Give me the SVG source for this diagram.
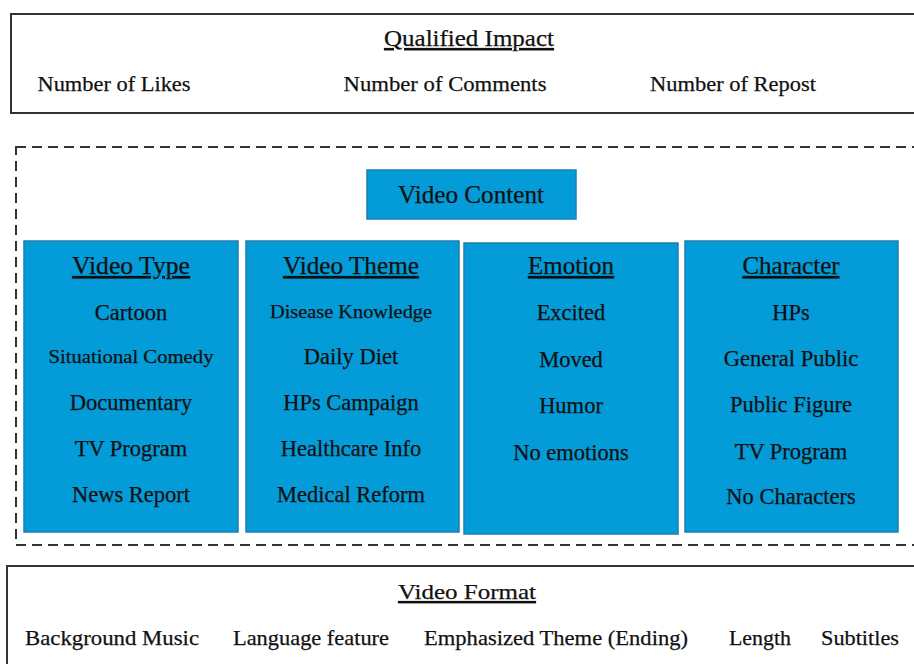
<svg xmlns="http://www.w3.org/2000/svg" width="914" height="664" viewBox="0 0 914 664">
<style>
text{font-family:"Liberation Serif","Times New Roman",serif;fill:#111;text-anchor:middle;stroke:#111;stroke-width:0.25}
.t{font-size:22px}
.h{font-size:25px;text-decoration:underline}
.i{font-size:22.5px}
.s{font-size:19px}
.frame{fill:#fff;stroke:#333;stroke-width:2}
.blue{fill:#039BD8;stroke:#1E7FAF;stroke-width:1.5}
</style>
<rect width="914" height="664" fill="#fff"/>
<g id="qualified-impact">
<rect class="frame" x="11" y="14" width="912" height="99"/>
<text class="t" x="469" y="46" style="font-size:23px;text-decoration:underline" textLength="170" lengthAdjust="spacingAndGlyphs">Qualified Impact</text>
<text class="t" x="114" y="91" textLength="153" lengthAdjust="spacingAndGlyphs">Number of Likes</text>
<text class="t" x="445" y="91" textLength="203" lengthAdjust="spacingAndGlyphs">Number of Comments</text>
<text class="t" x="733" y="91" textLength="166" lengthAdjust="spacingAndGlyphs">Number of Repost</text>
</g>
<g id="video-content-area">
<rect x="16" y="147" width="910" height="398" fill="none" stroke="#333" stroke-width="2" stroke-dasharray="10,6"/>
</g>
<g id="video-content">
<rect class="blue" x="367" y="170" width="209" height="49"/>
<text class="t" x="471" y="203" style="font-size:25px" textLength="146" lengthAdjust="spacingAndGlyphs">Video Content</text>
</g>
<g id="video-type">
<rect class="blue" x="24" y="241" width="214" height="291"/>
<text class="h" x="131" y="274" textLength="118" lengthAdjust="spacingAndGlyphs">Video Type</text>
<text class="i" x="131" y="320">Cartoon</text>
<text class="s" x="131" y="363" textLength="165" lengthAdjust="spacingAndGlyphs">Situational Comedy</text>
<text class="i" x="131" y="410">Documentary</text>
<text class="i" x="131" y="456">TV Program</text>
<text class="i" x="131" y="502">News Report</text>
</g>
<g id="video-theme">
<rect class="blue" x="246" y="241" width="213" height="291"/>
<text class="h" x="351" y="274" textLength="136" lengthAdjust="spacingAndGlyphs">Video Theme</text>
<text class="s" x="351" y="318" textLength="162" lengthAdjust="spacingAndGlyphs">Disease Knowledge</text>
<text class="i" x="351" y="364">Daily Diet</text>
<text class="i" x="351" y="410">HPs Campaign</text>
<text class="i" x="351" y="456">Healthcare Info</text>
<text class="i" x="351" y="502">Medical Reform</text>
</g>
<g id="emotion">
<rect class="blue" x="464" y="243" width="214" height="291"/>
<text class="h" x="571" y="274">Emotion</text>
<text class="i" x="571" y="320">Excited</text>
<text class="i" x="571" y="367">Moved</text>
<text class="i" x="571" y="413">Humor</text>
<text class="i" x="571" y="460">No emotions</text>
</g>
<g id="character">
<rect class="blue" x="685" y="241" width="213" height="291"/>
<text class="h" x="791" y="274">Character</text>
<text class="i" x="791" y="320">HPs</text>
<text class="i" x="791" y="366">General Public</text>
<text class="i" x="791" y="412">Public Figure</text>
<text class="i" x="791" y="459">TV Program</text>
<text class="i" x="791" y="504">No Characters</text>
</g>
<g id="video-format">
<rect class="frame" x="7" y="566" width="916" height="110"/>
<text class="t" x="467" y="599" style="text-decoration:underline" textLength="138" lengthAdjust="spacingAndGlyphs">Video Format</text>
<text class="t" x="112" y="645" textLength="174" lengthAdjust="spacingAndGlyphs">Background Music</text>
<text class="t" x="311" y="645" textLength="156" lengthAdjust="spacingAndGlyphs">Language feature</text>
<text class="t" x="556" y="645" textLength="264" lengthAdjust="spacingAndGlyphs">Emphasized Theme (Ending)</text>
<text class="t" x="760" y="645" textLength="62" lengthAdjust="spacingAndGlyphs">Length</text>
<text class="t" x="860" y="645" textLength="78" lengthAdjust="spacingAndGlyphs">Subtitles</text>
</g>
<g id="connectors"></g>
</svg>
